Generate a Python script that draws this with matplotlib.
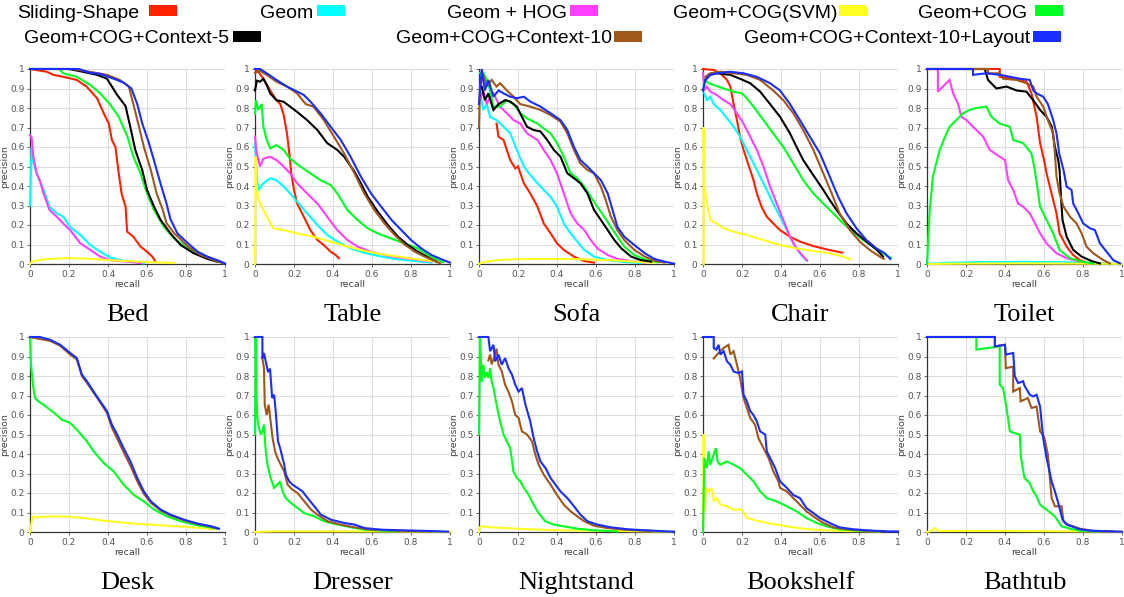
import matplotlib
matplotlib.use("Agg")
import matplotlib.pyplot as plt
from matplotlib.patches import Rectangle

# methods (legend order) and colours
method_names = ["Sliding-Shape", "Geom", "Geom + HOG", "Geom+COG(SVM)", "Geom+COG",
                "Geom+COG+Context-5", "Geom+COG+Context-10", "Geom+COG+Context-10+Layout"]
method_colors = ["#ff2200", "#00ffff", "#ff40ff", "#ffff22", "#00ff22",
                 "#000000", "#a0581a", "#1a2eff"]

# ---- precision/recall curves: (recall, precision) ----
bed_sliding = [(0, 1), (0.086, 0.986), (0.12, 0.97), (0.17, 0.96), (0.24, 0.944), (0.29, 0.91), (0.344, 0.85),
               (0.378, 0.773), (0.404, 0.72), (0.42, 0.636), (0.438, 0.60), (0.455, 0.465), (0.47, 0.36),
               (0.49, 0.294), (0.498, 0.166), (0.53, 0.14), (0.567, 0.089), (0.60, 0.063), (0.627, 0.038), (0.644, 0.012)]
bed_geom = [(0, 0.3), (0.008, 0.6), (0.017, 0.52), (0.04, 0.45), (0.07, 0.38), (0.10, 0.294), (0.137, 0.26),
            (0.17, 0.243), (0.206, 0.19), (0.258, 0.149), (0.31, 0.097), (0.36, 0.063), (0.41, 0.034),
            (0.464, 0.02), (0.53, 0.01), (0.584, 0.003)]
bed_hog = [(0, 0.66), (0.008, 0.65), (0.017, 0.55), (0.034, 0.465), (0.05, 0.43), (0.07, 0.36), (0.10, 0.277),
           (0.137, 0.243), (0.17, 0.208), (0.206, 0.174), (0.258, 0.106), (0.31, 0.072), (0.36, 0.038),
           (0.41, 0.02), (0.5, 0.012), (0.57, 0.005)]
bed_svm = [(0, 0), (0.01, 0.012), (0.05, 0.02), (0.1, 0.026), (0.2, 0.03), (0.3, 0.027), (0.4, 0.02),
           (0.5, 0.015), (0.6, 0.01), (0.74, 0.005)]
bed_cog = [(0, 1), (0.15, 1), (0.17, 0.978), (0.24, 0.96), (0.31, 0.918), (0.36, 0.875), (0.41, 0.82),
           (0.455, 0.755), (0.50, 0.653), (0.53, 0.55), (0.567, 0.465), (0.60, 0.362), (0.636, 0.277),
           (0.687, 0.19), (0.74, 0.13), (0.81, 0.08), (0.876, 0.046), (0.945, 0.02), (0.98, 0.009)]
bed_ctx5 = [(0, 1), (0.2, 1), (0.275, 0.985), (0.344, 0.97), (0.395, 0.95), (0.42, 0.91), (0.447, 0.867),
            (0.49, 0.81), (0.515, 0.70), (0.54, 0.585), (0.576, 0.48), (0.60, 0.38), (0.636, 0.294),
            (0.67, 0.226), (0.72, 0.157), (0.773, 0.097), (0.84, 0.055), (0.91, 0.026), (0.96, 0.012)]
bed_ctx10 = [(0, 1), (0.22, 1), (0.31, 0.985), (0.395, 0.97), (0.46, 0.944), (0.507, 0.91), (0.53, 0.82),
             (0.56, 0.70), (0.584, 0.60), (0.62, 0.48), (0.65, 0.36), (0.68, 0.28), (0.70, 0.21), (0.74, 0.157),
             (0.81, 0.09), (0.876, 0.046), (0.945, 0.02), (0.99, 0.003)]
bed_layout = [(0, 1), (0.25, 1), (0.31, 0.98), (0.36, 0.975), (0.43, 0.95), (0.48, 0.93), (0.52, 0.9),
              (0.55, 0.82), (0.576, 0.72), (0.61, 0.62), (0.636, 0.53), (0.67, 0.41), (0.70, 0.31), (0.72, 0.23),
              (0.756, 0.157), (0.81, 0.106), (0.86, 0.063), (0.91, 0.038), (0.96, 0.02), (1.0, 0.003)]

table_sliding = [(0, 1), (0.017, 0.986), (0.043, 0.95), (0.078, 0.89), (0.11, 0.84), (0.13, 0.82), (0.147, 0.764),
                 (0.164, 0.67), (0.178, 0.55), (0.186, 0.465), (0.2, 0.38), (0.216, 0.31), (0.25, 0.243),
                 (0.284, 0.174), (0.32, 0.123), (0.353, 0.097), (0.388, 0.063), (0.414, 0.046), (0.43, 0.03)]
table_geom = [(0, 0.62), (0.009, 0.448), (0.017, 0.38), (0.043, 0.414), (0.078, 0.44), (0.11, 0.43),
              (0.147, 0.397), (0.18, 0.362), (0.216, 0.32), (0.267, 0.26), (0.32, 0.2), (0.37, 0.149),
              (0.422, 0.115), (0.49, 0.08), (0.56, 0.058), (0.647, 0.038), (0.733, 0.024), (0.82, 0.015), (0.905, 0.007)]
table_hog = [(0, 0.653), (0.009, 0.567), (0.026, 0.5), (0.043, 0.54), (0.078, 0.55), (0.11, 0.533), (0.147, 0.5),
             (0.18, 0.465), (0.216, 0.414), (0.267, 0.362), (0.32, 0.31), (0.37, 0.243), (0.422, 0.174),
             (0.474, 0.123), (0.526, 0.089), (0.595, 0.063), (0.664, 0.046), (0.733, 0.034), (0.82, 0.024), (0.905, 0.012)]
table_svm = [(0, 0), (0.003, 0.55), (0.006, 0.43), (0.017, 0.33), (0.043, 0.277), (0.078, 0.21), (0.095, 0.183),
             (0.147, 0.174), (0.216, 0.157), (0.3, 0.14), (0.388, 0.115), (0.474, 0.089), (0.56, 0.068),
             (0.647, 0.051), (0.733, 0.038), (0.82, 0.026), (0.905, 0.015)]
table_cog = [(0, 0.77), (0.005, 0.84), (0.017, 0.79), (0.034, 0.82), (0.043, 0.704), (0.06, 0.636), (0.078, 0.593),
             (0.11, 0.61), (0.147, 0.585), (0.18, 0.54), (0.233, 0.5), (0.284, 0.465), (0.336, 0.43), (0.388, 0.405),
             (0.422, 0.362), (0.474, 0.277), (0.526, 0.226), (0.578, 0.183), (0.63, 0.157), (0.70, 0.13),
             (0.767, 0.106), (0.836, 0.08), (0.888, 0.046), (0.94, 0.02), (0.965, 0.009)]
table_ctx5 = [(0, 0.89), (0.01, 0.94), (0.026, 0.935), (0.043, 0.95), (0.06, 0.918), (0.078, 0.875), (0.11, 0.84),
              (0.147, 0.832), (0.18, 0.807), (0.216, 0.78), (0.267, 0.738), (0.32, 0.687), (0.37, 0.62),
              (0.422, 0.585), (0.457, 0.55), (0.51, 0.474), (0.543, 0.414), (0.578, 0.345), (0.63, 0.268),
              (0.681, 0.2), (0.733, 0.14), (0.784, 0.097), (0.836, 0.063), (0.888, 0.034), (0.93, 0.012)]
table_ctx10 = [(0, 0.98), (0.026, 0.99), (0.06, 0.97), (0.11, 0.935), (0.164, 0.91), (0.216, 0.875), (0.26, 0.82),
               (0.3, 0.807), (0.353, 0.738), (0.405, 0.653), (0.457, 0.567), (0.51, 0.465), (0.56, 0.362),
               (0.612, 0.277), (0.664, 0.208), (0.716, 0.149), (0.767, 0.10), (0.82, 0.063), (0.87, 0.038),
               (0.922, 0.015), (0.95, 0.003)]
table_layout = [(0, 1), (0.026, 1), (0.06, 0.978), (0.11, 0.944), (0.164, 0.91), (0.216, 0.884), (0.25, 0.867),
                (0.284, 0.833), (0.336, 0.773), (0.388, 0.704), (0.44, 0.636), (0.49, 0.55), (0.543, 0.448),
                (0.595, 0.362), (0.647, 0.294), (0.70, 0.226), (0.75, 0.174), (0.80, 0.123), (0.853, 0.08),
                (0.905, 0.046), (0.957, 0.024), (1.0, 0.007)]

sofa_sliding = [(0.09, 0.72), (0.1, 0.653), (0.126, 0.636), (0.16, 0.533), (0.186, 0.49), (0.2, 0.5), (0.23, 0.414),
                (0.263, 0.362), (0.3, 0.294), (0.332, 0.208), (0.367, 0.157), (0.4, 0.106), (0.435, 0.072),
                (0.487, 0.038), (0.54, 0.015), (0.59, 0.007)]
sofa_geom = [(0.005, 0.875), (0.022, 0.79), (0.04, 0.82), (0.057, 0.755), (0.09, 0.738), (0.126, 0.704),
             (0.16, 0.67), (0.194, 0.585), (0.23, 0.5), (0.263, 0.456), (0.3, 0.414), (0.332, 0.38), (0.367, 0.345),
             (0.4, 0.294), (0.435, 0.208), (0.47, 0.157), (0.504, 0.115), (0.54, 0.072), (0.59, 0.038),
             (0.66, 0.02), (0.745, 0.01), (0.83, 0.005)]
sofa_hog = [(0.005, 0.84), (0.022, 0.89), (0.04, 0.82), (0.057, 0.858), (0.074, 0.875), (0.108, 0.807),
            (0.143, 0.773), (0.177, 0.738), (0.212, 0.72), (0.246, 0.67), (0.3, 0.636), (0.332, 0.585),
            (0.367, 0.533), (0.4, 0.465), (0.435, 0.362), (0.47, 0.26), (0.504, 0.208), (0.54, 0.174),
            (0.573, 0.123), (0.607, 0.08), (0.66, 0.046), (0.71, 0.026), (0.78, 0.015), (0.85, 0.007)]
sofa_svm = [(0, 0), (0.02, 0.01), (0.1, 0.02), (0.2, 0.025), (0.3, 0.026), (0.4, 0.026), (0.5, 0.025),
            (0.6, 0.022), (0.7, 0.018), (0.8, 0.012), (0.9, 0.006)]
sofa_cog = [(0.005, 0.98), (0.022, 0.98), (0.04, 0.944), (0.057, 0.89), (0.074, 0.807), (0.108, 0.807),
            (0.143, 0.84), (0.177, 0.82), (0.212, 0.773), (0.246, 0.747), (0.3, 0.72), (0.332, 0.695),
            (0.367, 0.67), (0.4, 0.62), (0.435, 0.55), (0.47, 0.465), (0.504, 0.44), (0.54, 0.397), (0.573, 0.345),
            (0.607, 0.294), (0.642, 0.243), (0.676, 0.19), (0.71, 0.14), (0.745, 0.089), (0.797, 0.046),
            (0.85, 0.024), (0.917, 0.009)]
sofa_ctx5 = [(0.014, 0.91), (0.03, 0.84), (0.048, 0.875), (0.074, 0.79), (0.1, 0.82), (0.134, 0.84), (0.16, 0.833),
             (0.194, 0.807), (0.22, 0.755), (0.246, 0.704), (0.28, 0.687), (0.315, 0.68), (0.35, 0.636),
             (0.384, 0.585), (0.418, 0.55), (0.453, 0.465), (0.487, 0.44), (0.52, 0.414), (0.556, 0.362),
             (0.59, 0.277), (0.625, 0.226), (0.66, 0.174), (0.694, 0.123), (0.73, 0.08), (0.78, 0.038),
             (0.83, 0.02), (0.883, 0.012)]
sofa_ctx10 = [(0, 0.7), (0.005, 0.91), (0.022, 0.97), (0.04, 0.91), (0.065, 0.944), (0.09, 0.91), (0.108, 0.927),
              (0.143, 0.89), (0.177, 0.858), (0.212, 0.82), (0.263, 0.807), (0.315, 0.79), (0.367, 0.764),
              (0.418, 0.73), (0.453, 0.67), (0.487, 0.585), (0.52, 0.516), (0.556, 0.482), (0.59, 0.465),
              (0.625, 0.397), (0.65, 0.328), (0.676, 0.243), (0.71, 0.174), (0.745, 0.123), (0.797, 0.072),
              (0.85, 0.038), (0.9, 0.017), (0.952, 0.007)]
sofa_layout = [(0, 0.82), (0.014, 1.0), (0.03, 0.89), (0.048, 0.944), (0.074, 0.858), (0.1, 0.89), (0.126, 0.875),
               (0.16, 0.858), (0.194, 0.85), (0.23, 0.858), (0.263, 0.833), (0.315, 0.807), (0.367, 0.773),
               (0.418, 0.738), (0.453, 0.687), (0.487, 0.6), (0.52, 0.533), (0.556, 0.5), (0.59, 0.465),
               (0.625, 0.43), (0.66, 0.362), (0.685, 0.277), (0.71, 0.19), (0.745, 0.14), (0.797, 0.097),
               (0.85, 0.055), (0.9, 0.026), (0.952, 0.012), (1.0, 0.002)]

chair_sliding = [(0, 1.0), (0.055, 0.995), (0.089, 0.978), (0.123, 0.944), (0.14, 0.91), (0.157, 0.82),
                 (0.174, 0.738), (0.19, 0.653), (0.208, 0.585), (0.225, 0.533), (0.242, 0.482), (0.259, 0.43),
                 (0.276, 0.362), (0.3, 0.294), (0.327, 0.243), (0.36, 0.208), (0.395, 0.174), (0.446, 0.14),
                 (0.497, 0.115), (0.566, 0.092), (0.634, 0.075), (0.715, 0.058)]
chair_geom = [(0.007, 0.875), (0.02, 0.84), (0.037, 0.858), (0.055, 0.82), (0.089, 0.79), (0.123, 0.747),
              (0.157, 0.704), (0.19, 0.653), (0.225, 0.585), (0.259, 0.516), (0.293, 0.448), (0.327, 0.38),
              (0.36, 0.31), (0.395, 0.243), (0.43, 0.174), (0.463, 0.106), (0.497, 0.055), (0.528, 0.02)]
chair_hog = [(0, 0.98), (0.007, 0.89), (0.02, 0.91), (0.037, 0.884), (0.07, 0.867), (0.106, 0.84), (0.14, 0.82),
             (0.174, 0.773), (0.208, 0.72), (0.242, 0.653), (0.276, 0.585), (0.31, 0.5), (0.344, 0.397),
             (0.378, 0.31), (0.412, 0.226), (0.446, 0.14), (0.48, 0.08), (0.514, 0.038), (0.535, 0.017)]
chair_svm = [(0.003, 0), (0.003, 0.7), (0.007, 0.397), (0.02, 0.31), (0.037, 0.226), (0.07, 0.208),
             (0.106, 0.183), (0.157, 0.166), (0.225, 0.149), (0.31, 0.123), (0.395, 0.097), (0.48, 0.08),
             (0.566, 0.067), (0.65, 0.055), (0.719, 0.038), (0.756, 0.024)]
chair_cog = [(0, 0.89), (0.012, 0.944), (0.029, 0.927), (0.055, 0.918), (0.106, 0.9), (0.157, 0.884), (0.2, 0.875),
             (0.225, 0.85), (0.259, 0.807), (0.31, 0.738), (0.36, 0.67), (0.412, 0.6), (0.463, 0.516),
             (0.514, 0.43), (0.566, 0.362), (0.617, 0.31), (0.668, 0.26), (0.719, 0.208), (0.77, 0.166),
             (0.82, 0.123), (0.872, 0.089), (0.923, 0.055), (0.966, 0.03)]
chair_ctx5 = [(0.012, 0.944), (0.037, 0.97), (0.07, 0.978), (0.14, 0.97), (0.19, 0.95), (0.242, 0.927),
              (0.293, 0.884), (0.344, 0.82), (0.395, 0.755), (0.446, 0.67), (0.48, 0.6), (0.514, 0.533),
              (0.548, 0.482), (0.583, 0.43), (0.617, 0.38), (0.65, 0.328), (0.685, 0.277), (0.736, 0.208),
              (0.787, 0.157), (0.838, 0.115), (0.889, 0.075), (0.923, 0.038)]
chair_ctx10 = [(0.012, 0.96), (0.037, 0.978), (0.089, 0.986), (0.157, 0.978), (0.225, 0.97), (0.293, 0.944),
               (0.36, 0.89), (0.412, 0.84), (0.463, 0.773), (0.514, 0.687), (0.566, 0.585), (0.617, 0.465),
               (0.66, 0.362), (0.70, 0.26), (0.753, 0.174), (0.804, 0.115), (0.855, 0.072), (0.906, 0.038),
               (0.927, 0.026)]
chair_layout = [(0, 0.89), (0.012, 0.944), (0.037, 0.97), (0.07, 0.978), (0.14, 0.986), (0.208, 0.978),
                (0.276, 0.96), (0.344, 0.927), (0.395, 0.89), (0.446, 0.82), (0.497, 0.738), (0.548, 0.653),
                (0.6, 0.567), (0.65, 0.448), (0.693, 0.345), (0.736, 0.26), (0.787, 0.183), (0.838, 0.123),
                (0.889, 0.08), (0.932, 0.055), (0.96, 0.026)]

toilet_sliding = [(0, 1), (0.373, 1), (0.373, 0.96), (0.442, 0.95), (0.51, 0.935), (0.536, 0.875), (0.562, 0.755),
                  (0.58, 0.62), (0.6, 0.533), (0.613, 0.465), (0.63, 0.397), (0.647, 0.328), (0.664, 0.26),
                  (0.68, 0.157), (0.716, 0.089), (0.75, 0.046), (0.784, 0.02), (0.818, 0.007)]
toilet_geom = [(0, 0), (0.1, 0.006), (0.3, 0.01), (0.5, 0.011), (0.7, 0.009), (0.9, 0.004), (1.0, 0.001)]
toilet_hog = [(0, 1), (0.056, 1), (0.056, 0.884), (0.082, 0.91), (0.116, 0.944), (0.134, 0.875), (0.16, 0.82),
              (0.176, 0.755), (0.202, 0.738), (0.236, 0.704), (0.288, 0.653), (0.322, 0.585), (0.373, 0.55),
              (0.4, 0.533), (0.416, 0.43), (0.442, 0.38), (0.467, 0.31), (0.493, 0.294), (0.527, 0.26),
              (0.545, 0.226), (0.58, 0.157), (0.613, 0.106), (0.664, 0.055), (0.716, 0.03), (0.784, 0.012), (0.835, 0.003)]
toilet_svm = [(0, 0), (0.2, 0.002), (0.5, 0.003), (0.8, 0.002), (1.0, 0.001)]
toilet_cog = [(0, 0), (0.014, 0.277), (0.03, 0.448), (0.065, 0.585), (0.1, 0.67), (0.116, 0.704), (0.15, 0.738),
              (0.185, 0.773), (0.219, 0.79), (0.253, 0.8), (0.305, 0.807), (0.33, 0.755), (0.373, 0.72),
              (0.425, 0.704), (0.442, 0.636), (0.493, 0.62), (0.536, 0.567), (0.553, 0.482), (0.58, 0.294),
              (0.613, 0.226), (0.647, 0.157), (0.68, 0.072), (0.733, 0.03), (0.801, 0.01), (0.853, 0.003)]
toilet_ctx5 = [(0, 1), (0.296, 1), (0.313, 0.944), (0.356, 0.9), (0.408, 0.91), (0.459, 0.89), (0.51, 0.884),
               (0.545, 0.84), (0.58, 0.79), (0.613, 0.755), (0.64, 0.704), (0.656, 0.6), (0.673, 0.533),
               (0.68, 0.482), (0.688, 0.328), (0.695, 0.226), (0.716, 0.14), (0.75, 0.072), (0.793, 0.038),
               (0.844, 0.015), (0.887, 0.003)]
toilet_ctx10 = [(0, 1), (0.313, 1), (0.313, 0.978), (0.373, 0.978), (0.39, 0.95), (0.459, 0.944), (0.51, 0.927),
                (0.545, 0.91), (0.562, 0.858), (0.596, 0.807), (0.62, 0.738), (0.647, 0.67), (0.656, 0.567),
                (0.664, 0.448), (0.68, 0.362), (0.7, 0.294), (0.733, 0.243), (0.767, 0.208), (0.793, 0.157),
                (0.818, 0.089), (0.853, 0.055), (0.904, 0.02), (0.938, 0.003)]
toilet_layout = [(0, 1), (0.236, 1), (0.236, 0.97), (0.305, 0.978), (0.373, 0.97), (0.425, 0.96), (0.476, 0.95),
                 (0.527, 0.944), (0.545, 0.89), (0.562, 0.875), (0.596, 0.858), (0.62, 0.82), (0.647, 0.738),
                 (0.664, 0.67), (0.678, 0.567), (0.7, 0.482), (0.716, 0.397), (0.741, 0.38), (0.75, 0.31),
                 (0.776, 0.26), (0.801, 0.208), (0.836, 0.183), (0.861, 0.174), (0.887, 0.106), (0.921, 0.063),
                 (0.955, 0.02), (0.99, 0.003)]

desk_svm = [(0, 0), (0.009, 0.055), (0.017, 0.08), (0.034, 0.075), (0.103, 0.08), (0.19, 0.079), (0.275, 0.072),
            (0.36, 0.06), (0.447, 0.051), (0.533, 0.043), (0.62, 0.038), (0.704, 0.032), (0.79, 0.027),
            (0.876, 0.02), (0.945, 0.014)]
desk_cog = [(0, 1), (0.005, 0.86), (0.012, 0.79), (0.017, 0.74), (0.026, 0.687), (0.043, 0.67), (0.069, 0.653),
            (0.103, 0.627), (0.137, 0.6), (0.163, 0.576), (0.206, 0.56), (0.24, 0.525), (0.292, 0.465),
            (0.326, 0.414), (0.378, 0.354), (0.43, 0.31), (0.48, 0.243), (0.533, 0.19), (0.584, 0.157),
            (0.636, 0.115), (0.704, 0.08), (0.773, 0.055), (0.842, 0.038), (0.91, 0.026), (0.962, 0.017)]
desk_ctx10 = [(0, 1), (0.05, 0.99), (0.103, 0.98), (0.155, 0.955), (0.206, 0.91), (0.24, 0.885), (0.266, 0.80),
              (0.292, 0.765), (0.326, 0.715), (0.36, 0.665), (0.395, 0.61), (0.42, 0.535), (0.447, 0.48),
              (0.48, 0.41), (0.515, 0.34), (0.55, 0.26), (0.584, 0.195), (0.62, 0.15), (0.67, 0.11), (0.72, 0.085),
              (0.79, 0.06), (0.86, 0.041), (0.93, 0.027), (0.96, 0.017)]
desk_layout = [(0, 1), (0.05, 1), (0.103, 0.986), (0.155, 0.96), (0.206, 0.918), (0.24, 0.892), (0.266, 0.807),
               (0.292, 0.773), (0.326, 0.72), (0.36, 0.67), (0.395, 0.62), (0.42, 0.55), (0.447, 0.5), (0.48, 0.43),
               (0.515, 0.362), (0.55, 0.277), (0.584, 0.208), (0.62, 0.157), (0.67, 0.115), (0.72, 0.089),
               (0.79, 0.063), (0.86, 0.043), (0.93, 0.029), (0.97, 0.017)]

dresser_svm = [(0, 0), (0.1, 0.003), (0.5, 0.003), (0.9, 0.002), (1.0, 0.002)]
dresser_cog = [(0, 0.5), (0.003, 1.0), (0.007, 0.72), (0.012, 0.585), (0.02, 0.533), (0.03, 0.5), (0.038, 0.516),
               (0.046, 0.55), (0.055, 0.414), (0.064, 0.345), (0.08, 0.277), (0.098, 0.226), (0.115, 0.243),
               (0.129, 0.26), (0.141, 0.208), (0.158, 0.174), (0.184, 0.149), (0.218, 0.123), (0.253, 0.097),
               (0.304, 0.08), (0.355, 0.055), (0.424, 0.038), (0.493, 0.024), (0.562, 0.012), (0.648, 0.007), (0.734, 0.003)]
dresser_ctx10 = [(0.038, 0.89), (0.046, 0.84), (0.05, 0.653), (0.06, 0.6), (0.07, 0.653), (0.08, 0.568),
                 (0.09, 0.482), (0.103, 0.414), (0.115, 0.38), (0.132, 0.345), (0.15, 0.31), (0.167, 0.243),
                 (0.192, 0.217), (0.218, 0.2), (0.253, 0.157), (0.287, 0.115), (0.32, 0.089), (0.373, 0.055),
                 (0.44, 0.038), (0.51, 0.024), (0.597, 0.012), (0.734, 0.007), (0.905, 0.003)]
dresser_layout = [(0, 1), (0.038, 1), (0.038, 0.89), (0.046, 0.918), (0.055, 0.875), (0.067, 0.82), (0.077, 0.838),
                  (0.088, 0.687), (0.098, 0.704), (0.106, 0.62), (0.118, 0.465), (0.129, 0.43), (0.141, 0.38),
                  (0.15, 0.345), (0.158, 0.294), (0.175, 0.26), (0.192, 0.243), (0.218, 0.226), (0.244, 0.208),
                  (0.27, 0.174), (0.304, 0.132), (0.338, 0.089), (0.39, 0.063), (0.459, 0.046), (0.51, 0.038),
                  (0.562, 0.02), (0.648, 0.012), (0.734, 0.009), (0.905, 0.005), (0.99, 0.002)]

night_svm = [(0, 0), (0.005, 0.024), (0.014, 0.029), (0.057, 0.024), (0.194, 0.017), (0.367, 0.01), (0.54, 0.007),
             (0.883, 0.003), (0.986, 0.002)]
night_cog = [(0, 0.5), (0.005, 1.0), (0.014, 0.77), (0.022, 0.858), (0.031, 0.79), (0.04, 0.82), (0.048, 0.79),
             (0.057, 0.84), (0.065, 0.77), (0.074, 0.74), (0.09, 0.653), (0.108, 0.567), (0.126, 0.5),
             (0.143, 0.465), (0.16, 0.43), (0.177, 0.31), (0.194, 0.277), (0.212, 0.26), (0.23, 0.226),
             (0.255, 0.19), (0.28, 0.14), (0.306, 0.097), (0.34, 0.055), (0.384, 0.038), (0.435, 0.029),
             (0.504, 0.017), (0.59, 0.009), (0.71, 0.003)]
night_ctx10 = [(0.048, 0.88), (0.057, 0.91), (0.065, 0.86), (0.083, 0.91), (0.09, 0.94), (0.1, 0.858),
               (0.117, 0.823), (0.134, 0.755), (0.151, 0.72), (0.169, 0.67), (0.186, 0.6), (0.203, 0.585),
               (0.22, 0.516), (0.246, 0.5), (0.272, 0.465), (0.289, 0.397), (0.306, 0.345), (0.332, 0.294),
               (0.367, 0.243), (0.4, 0.19), (0.435, 0.14), (0.47, 0.106), (0.504, 0.08), (0.54, 0.055),
               (0.59, 0.032), (0.66, 0.02), (0.745, 0.012), (0.883, 0.005)]
night_layout = [(0, 1), (0.048, 1), (0.057, 0.927), (0.074, 0.96), (0.083, 0.875), (0.1, 0.91), (0.117, 0.858),
                (0.134, 0.892), (0.151, 0.84), (0.169, 0.807), (0.186, 0.755), (0.203, 0.72), (0.22, 0.738),
                (0.238, 0.653), (0.263, 0.567), (0.28, 0.482), (0.298, 0.414), (0.315, 0.362), (0.341, 0.328),
                (0.367, 0.277), (0.392, 0.243), (0.418, 0.208), (0.453, 0.174), (0.487, 0.132), (0.52, 0.089),
                (0.556, 0.055), (0.607, 0.038), (0.676, 0.024), (0.762, 0.014), (0.848, 0.009), (0.969, 0.003), (1.0, 0.002)]

book_svm = [(0, 0), (0.003, 0.5), (0.007, 0.106), (0.017, 0.226), (0.029, 0.208), (0.046, 0.226), (0.055, 0.157),
            (0.072, 0.174), (0.089, 0.14), (0.123, 0.132), (0.157, 0.115), (0.2, 0.115), (0.225, 0.072),
            (0.276, 0.058), (0.344, 0.044), (0.43, 0.029), (0.514, 0.017), (0.6, 0.01), (0.736, 0.005), (0.906, 0.003)]
book_cog = [(0, 0), (0.007, 0.38), (0.02, 0.328), (0.029, 0.414), (0.037, 0.345), (0.055, 0.397), (0.066, 0.43),
            (0.075, 0.36), (0.089, 0.345), (0.123, 0.362), (0.157, 0.345), (0.19, 0.328), (0.225, 0.294),
            (0.259, 0.26), (0.293, 0.208), (0.327, 0.174), (0.378, 0.157), (0.43, 0.132), (0.48, 0.106),
            (0.53, 0.072), (0.583, 0.046), (0.634, 0.029), (0.7, 0.014), (0.804, 0.006), (0.906, 0.003)]
book_ctx10 = [(0.055, 0.89), (0.072, 0.91), (0.089, 0.927), (0.106, 0.944), (0.131, 0.96), (0.14, 0.91),
              (0.157, 0.927), (0.174, 0.858), (0.19, 0.79), (0.208, 0.687), (0.225, 0.636), (0.242, 0.585),
              (0.267, 0.55), (0.284, 0.482), (0.31, 0.43), (0.336, 0.38), (0.361, 0.31), (0.387, 0.26),
              (0.395, 0.226), (0.43, 0.208), (0.463, 0.174), (0.497, 0.14), (0.53, 0.106), (0.566, 0.08),
              (0.617, 0.046), (0.668, 0.024), (0.736, 0.014), (0.838, 0.006), (0.94, 0.003)]
book_layout = [(0, 1), (0.055, 1), (0.055, 0.944), (0.068, 0.935), (0.08, 0.96), (0.089, 0.91), (0.106, 0.927),
               (0.123, 0.875), (0.14, 0.858), (0.157, 0.823), (0.182, 0.815), (0.2, 0.823), (0.208, 0.704),
               (0.225, 0.67), (0.242, 0.62), (0.259, 0.6), (0.276, 0.567), (0.293, 0.516), (0.319, 0.5),
               (0.327, 0.414), (0.344, 0.38), (0.37, 0.328), (0.395, 0.26), (0.43, 0.226), (0.463, 0.19),
               (0.497, 0.174), (0.53, 0.123), (0.566, 0.097), (0.6, 0.072), (0.65, 0.046), (0.7, 0.024),
               (0.77, 0.014), (0.838, 0.009), (0.94, 0.003), (1.0, 0.003)]

bath_svm = [(0, 0), (0.02, 0.005), (0.04, 0.02), (0.06, 0.005), (0.3, 0.006), (0.6, 0.004), (1.0, 0.002)]
bath_cog = [(0, 1), (0.253, 1), (0.253, 0.935), (0.373, 0.952), (0.373, 0.755), (0.39, 0.738), (0.404, 0.661),
            (0.425, 0.516), (0.45, 0.507), (0.476, 0.5), (0.482, 0.38), (0.5, 0.277), (0.527, 0.25), (0.545, 0.208),
            (0.562, 0.183), (0.58, 0.14), (0.613, 0.115), (0.656, 0.08), (0.69, 0.029), (0.733, 0.017),
            (0.784, 0.007), (0.887, 0.003)]
bath_ctx10 = [(0, 1), (0.348, 1), (0.348, 0.952), (0.4, 0.96), (0.404, 0.84), (0.442, 0.848), (0.442, 0.72),
              (0.476, 0.738), (0.48, 0.67), (0.517, 0.687), (0.536, 0.636), (0.562, 0.643), (0.58, 0.516),
              (0.6, 0.49), (0.62, 0.397), (0.639, 0.174), (0.656, 0.132), (0.69, 0.132), (0.7, 0.055),
              (0.724, 0.038), (0.75, 0.029), (0.784, 0.017), (0.853, 0.006), (0.955, 0.003)]
bath_layout = [(0, 1), (0.348, 1), (0.348, 0.952), (0.4, 0.96), (0.404, 0.91), (0.442, 0.918), (0.45, 0.8),
               (0.467, 0.764), (0.493, 0.773), (0.5, 0.75), (0.527, 0.704), (0.545, 0.695), (0.562, 0.704),
               (0.58, 0.643), (0.596, 0.48), (0.613, 0.38), (0.639, 0.26), (0.656, 0.208), (0.673, 0.149),
               (0.695, 0.063), (0.716, 0.038), (0.741, 0.029), (0.767, 0.02), (0.793, 0.012), (0.853, 0.006),
               (0.955, 0.003), (1.0, 0.002)]

# panel titles and the curves per panel, in method order (None = not shown)
panel_titles = ["Bed", "Table", "Sofa", "Chair", "Toilet",
                "Desk", "Dresser", "Nightstand", "Bookshelf", "Bathtub"]
panel_curves = [
    [bed_sliding, bed_geom, bed_hog, bed_svm, bed_cog, bed_ctx5, bed_ctx10, bed_layout],
    [table_sliding, table_geom, table_hog, table_svm, table_cog, table_ctx5, table_ctx10, table_layout],
    [sofa_sliding, sofa_geom, sofa_hog, sofa_svm, sofa_cog, sofa_ctx5, sofa_ctx10, sofa_layout],
    [chair_sliding, chair_geom, chair_hog, chair_svm, chair_cog, chair_ctx5, chair_ctx10, chair_layout],
    [toilet_sliding, toilet_geom, toilet_hog, toilet_svm, toilet_cog, toilet_ctx5, toilet_ctx10, toilet_layout],
    [None, None, None, desk_svm, desk_cog, None, desk_ctx10, desk_layout],
    [None, None, None, dresser_svm, dresser_cog, None, dresser_ctx10, dresser_layout],
    [None, None, None, night_svm, night_cog, None, night_ctx10, night_layout],
    [None, None, None, book_svm, book_cog, None, book_ctx10, book_layout],
    [None, None, None, bath_svm, bath_cog, None, bath_ctx10, bath_layout],
]

W, H = 1124, 597
fig = plt.figure(figsize=(W / 100, H / 100), dpi=100)

lefts = [30, 255, 479, 703, 927]
tops = [69, 337]
ax_w, ax_h = 195, 195

yticks = [i / 10 for i in range(11)]
ytick_labels = ["0"] + [f"{v:.1f}" for v in yticks[1:-1]] + ["1"]
xticks = [0, 0.2, 0.4, 0.6, 0.8, 1.0]
xtick_labels = ["0", "0.2", "0.4", "0.6", "0.8", "1"]

for k, (title, curves) in enumerate(zip(panel_titles, panel_curves)):
    row, col = divmod(k, 5)
    left, top = lefts[col], tops[row]
    ax = fig.add_axes([left / W, 1 - (top + ax_h) / H, ax_w / W, ax_h / H])
    for m, pts in enumerate(curves):
        if pts is None:
            continue
        r = [p[0] for p in pts]
        pr = [p[1] for p in pts]
        ax.plot(r, pr, color=method_colors[m], lw=1.5, zorder=3 + m, clip_on=False,
                solid_joinstyle="miter")
    ax.set_xlim(0, 1)
    ax.set_ylim(0, 1)
    ax.set_xticks(xticks)
    ax.set_xticklabels(xtick_labels)
    ax.set_yticks(yticks)
    ax.set_yticklabels(ytick_labels)
    ax.tick_params(labelsize=6.5, colors="#555555", length=2, width=0.6, pad=2)
    ax.grid(True, color="#dddddd", lw=0.8)
    ax.set_axisbelow(True)
    for s in ["top", "right"]:
        ax.spines[s].set_visible(False)
    for s in ["left", "bottom"]:
        ax.spines[s].set_color("#333333")
        ax.spines[s].set_linewidth(0.9)
    ax.set_xlabel("recall", fontsize=6.8, color="#444444", labelpad=1)
    ax.set_ylabel("precision", fontsize=6.8, color="#444444", labelpad=1)
    fig.text((left + ax_w / 2) / W, 1 - (top + 252) / H, title, ha="center", va="baseline",
             fontsize=19, family="Liberation Serif")

# legend at the top: (label right edge, swatch left, baseline y, swatch top y)
legend_pos = [(139, 149, 18, 5), (313, 317, 18, 5), (567, 570, 18, 5), (838, 839, 18, 5),
              (1027, 1035, 18, 5), (229, 233, 43, 31), (612, 614, 43, 31), (1030, 1033, 43, 31)]
for (tx, sx, by, sy), name, c in zip(legend_pos, method_names, method_colors):
    fig.text(tx / W, 1 - by / H, name, ha="right", va="baseline", fontsize=14,
             family="Liberation Sans")
    fig.patches.append(Rectangle((sx / W, 1 - (sy + 11) / H), 28 / W, 11 / H,
                                 transform=fig.transFigure, facecolor=c, edgecolor="none"))

fig.savefig("out.png", dpi=100)
